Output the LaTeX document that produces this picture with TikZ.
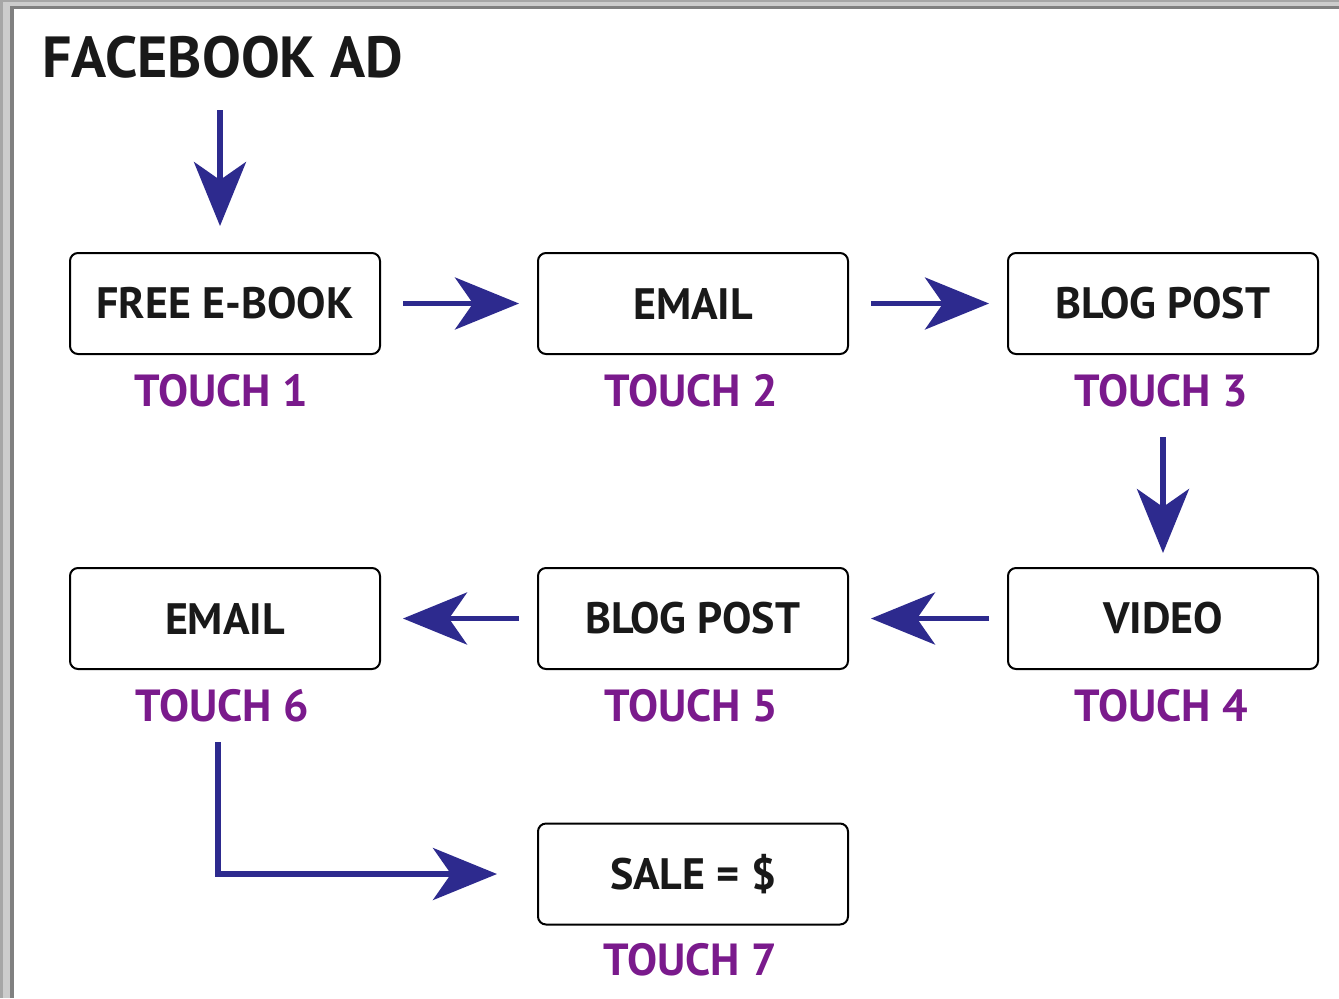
\documentclass[tikz,border=0pt]{standalone}
\usepackage{fontspec}
\setmainfont{PT Sans}
\usetikzlibrary{arrows.meta}
\definecolor{arrowblue}{HTML}{2D2A8E}
\definecolor{touchpurple}{HTML}{7A1A8C}
\tikzset{
  x=0.5pt, y=-0.5pt,
  stepbox/.style={draw=black, line width=1pt, rounded corners=4pt, minimum width=155pt, minimum height=50.5pt, inner sep=0pt, font=\fontsize{22}{22}\selectfont\bfseries, text=black!90},
  touchlbl/.style={font=\fontsize{22.5}{22.5}\selectfont\bfseries, text=touchpurple},
  flow/.style={draw=arrowblue, line width=2.6pt, -{Stealth[length=32pt, width=26pt, inset=9pt]}},
}
\begin{document}
\begin{tikzpicture}
\useasboundingbox (0,0) rectangle (1339,998);
% frame
\fill[black!35] (0,0) rectangle (1339,998);
\fill[black!20] (3,2) rectangle (1339,998);
\fill[black!50] (10,6) rectangle (1339,998);
\fill[white] (14,9) rectangle (1339,998);
% title
\node[anchor=west, font=\fontsize{29}{29}\selectfont\bfseries, text=black!90, inner sep=0pt] (fb) at (42,57) {FACEBOOK AD};
% boxes
\node[stepbox] (b1) at (225,303.5) {FREE E-BOOK};
\node[stepbox] (b2) at (693,303.5) {EMAIL};
\node[stepbox] (b3) at (1163,303.5) {BLOG POST};
\node[stepbox] (b4) at (1163,618.5) {VIDEO};
\node[stepbox] (b5) at (693,618.5) {BLOG POST};
\node[stepbox] (b6) at (225,618.5) {EMAIL};
\node[stepbox] (b7) at (693,874) {SALE = \$};
% touch labels
\node[touchlbl] (t1) at (221,391) {TOUCH 1};
\node[touchlbl] (t2) at (691,391) {TOUCH 2};
\node[touchlbl] (t3) at (1161,391) {TOUCH 3};
\node[touchlbl] (t4) at (1161,706) {TOUCH 4};
\node[touchlbl] (t5) at (691,706) {TOUCH 5};
\node[touchlbl] (t6) at (222,706) {TOUCH 6};
\node[touchlbl] (t7) at (690,960) {TOUCH 7};
% connectors
\draw[flow] (220,110) -- (220,226);
\draw[flow] ([xshift=11pt]b1.east) -- ([xshift=-9pt]b2.west);
\draw[flow] ([xshift=11pt]b2.east) -- ([xshift=-9pt]b3.west);
\draw[flow] (1163,437) -- (1163,553);
\draw[flow] ([xshift=-9pt]b4.west) -- ([xshift=11pt]b5.east);
\draw[flow] ([xshift=-9pt]b5.west) -- ([xshift=11pt]b6.east);
\draw[flow] (218,742) |- ([xshift=-20pt]b7.west);
\end{tikzpicture}
\end{document}
